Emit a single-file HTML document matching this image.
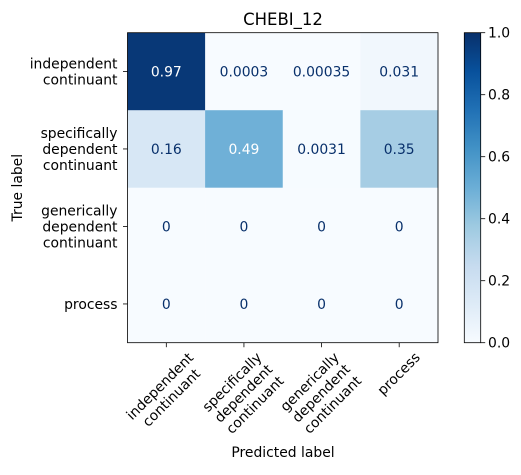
<!DOCTYPE html>
<html><head><meta charset="utf-8"><style>
body{margin:0;background:#fff;}
svg text{font-family:"DejaVu Sans","Liberation Sans",sans-serif;}
</style></head><body>
<svg id="chart" width="521" height="470" viewBox="0 0 521 470" xmlns="http://www.w3.org/2000/svg">
<text x="283" y="25" text-anchor="middle" font-size="16.5" fill="#000">CHEBI_12</text>
<g id="cells"></g>
<g id="axes"></g>
<defs><linearGradient id="cbgrad" x1="0" y1="1" x2="0" y2="0">
<stop offset="0" stop-color="#f7fbff"/><stop offset="0.125" stop-color="#deebf7"/><stop offset="0.25" stop-color="#c6dbef"/><stop offset="0.375" stop-color="#9ecae1"/><stop offset="0.5" stop-color="#6baed6"/><stop offset="0.625" stop-color="#4292c6"/><stop offset="0.75" stop-color="#2171b5"/><stop offset="0.875" stop-color="#08519c"/><stop offset="1" stop-color="#08306b"/>
</linearGradient></defs>
<rect x="464.3" y="32.7" width="16.4" height="310" fill="url(#cbgrad)" stroke="#000" stroke-width="0.8"/>
<g id="cbticks"></g>
<text x="283" y="457" text-anchor="middle" font-size="13.9">Predicted label</text>
<text transform="translate(22,187.7) rotate(-90)" text-anchor="middle" font-size="13.9">True label</text>
</svg>
<script>
const classes=[["independent","continuant"],["specifically","dependent","continuant"],["generically","dependent","continuant"],["process"]];
const values=[[0.97,0.0003,0.00035,0.031],[0.16,0.49,0.0031,0.35],[0,0,0,0],[0,0,0,0]];
const labels=[["0.97","0.0003","0.00035","0.031"],["0.16","0.49","0.0031","0.35"],["0","0","0","0"],["0","0","0","0"]];
const cbTicks=[0,0.2,0.4,0.6,0.8,1.0];
const cbTickLabels=["0.0","0.2","0.4","0.6","0.8","1.0"];
const NS="http://www.w3.org/2000/svg";
const FS=13.9,LH=16.2;
const L=127.5,T=32.7,W=310.5,H=310,n=classes.length,cw=W/n,ch=H/n;
const stops=["#f7fbff","#deebf7","#c6dbef","#9ecae1","#6baed6","#4292c6","#2171b5","#08519c","#08306b"];
function hex(h){return[1,3,5].map(i=>parseInt(h.substr(i,2),16));}
function blues(v){v=Math.max(0,Math.min(1,v));const p=v*8,i=Math.min(7,Math.floor(p)),f=p-i;const a=hex(stops[i]),b=hex(stops[i+1]);return"rgb("+a.map((x,k)=>Math.round(x+(b[k]-x)*f)).join(",")+")";}
function xPos(j){return L+cw*(j+0.5);}
function yPos(i){return T+ch*(i+0.5);}
function el(t,a,p){const e=document.createElementNS(NS,t);for(const k in a)e.setAttribute(k,a[k]);p.appendChild(e);return e;}
const cells=document.getElementById("cells"),axes=document.getElementById("axes");
const flat=values.flat(),thr=(Math.max(...flat)+Math.min(...flat))/2;
values.forEach((row,i)=>row.forEach((v,j)=>{
 const r=el("rect",{x:L+cw*j,y:T+ch*i,width:cw+0.3,height:ch+0.3,fill:blues(v)},cells);
 
 
 const t=el("text",{x:xPos(j),y:yPos(i)+5,"text-anchor":"middle","font-size":FS,fill:v>thr?"#fff":"#08306b"},cells);
 t.textContent=labels[i][j];
 
 
}));
el("rect",{x:L,y:T,width:W,height:H,fill:"none",stroke:"#000","stroke-width":0.8},axes);
classes.forEach((c,i)=>{
 el("line",{x1:L,x2:L-4.5,y1:yPos(i),y2:yPos(i),stroke:"#000","stroke-width":0.8},axes);
 const t=el("text",{"text-anchor":"end","font-size":FS},axes);
 
 
 const y0=yPos(i)+5-(c.length-1)*LH/2;
 c.forEach((w,k)=>{const s=el("tspan",{x:L-10,y:y0+k*LH},t);s.textContent=w;});
 el("line",{x1:xPos(i),x2:xPos(i),y1:T+H,y2:T+H+4.5,stroke:"#000","stroke-width":0.8},axes);
 const outer=el("g",{},axes);
 const g=el("g",{transform:"rotate(-45)"},outer);
 const tx=el("text",{"text-anchor":"middle","font-size":FS},g);
 
 
 c.forEach((w,k)=>{const s=el("tspan",{x:0,y:(k-(c.length-1)/2)*LH+5},tx);s.textContent=w;});
 const bb=outer.getBBox();
 outer.setAttribute("transform","translate("+(xPos(i)-(bb.x+bb.width/2))+","+(T+H+7-bb.y)+")");
});
const cb=document.getElementById("cbticks");
cbTicks.forEach((v,k)=>{
 const y=342.7-v*310;
 el("line",{x1:480.7,x2:485.2,y1:y,y2:y,stroke:"#000","stroke-width":0.8},cb);
 const t=el("text",{x:488,y:y+5,"font-size":FS},cb);
 t.textContent=cbTickLabels[k];
 
 
});
</script>
</body></html>
